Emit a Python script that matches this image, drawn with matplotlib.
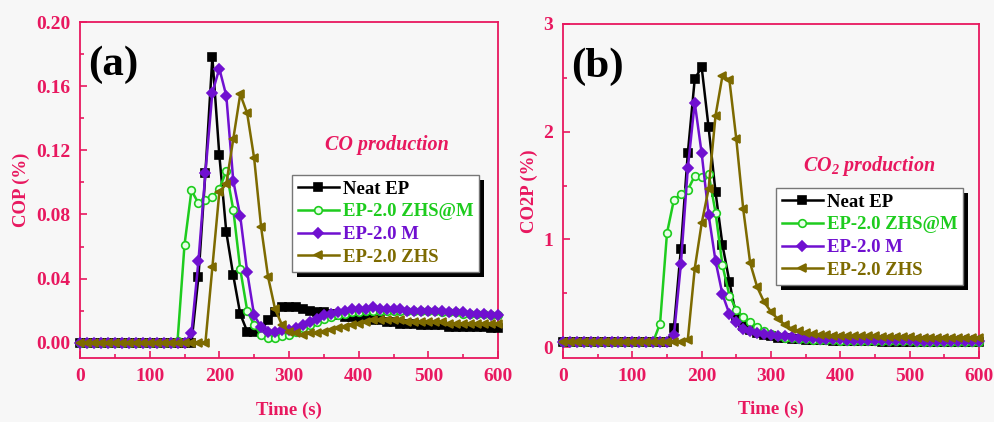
import numpy as np
import matplotlib
matplotlib.use("Agg")
import matplotlib.pyplot as plt
from matplotlib.patches import Rectangle
from matplotlib.transforms import IdentityTransform
from matplotlib.ticker import MultipleLocator, FormatStrFormatter

plt.rcParams['font.family'] = ['Liberation Serif', 'DejaVu Serif']
plt.rcParams['font.weight'] = 'bold'
plt.rcParams['mathtext.fontset'] = 'custom'
plt.rcParams['mathtext.rm'] = 'Liberation Serif:bold:italic'
plt.rcParams['mathtext.it'] = 'Liberation Serif:bold:italic'
plt.rcParams['mathtext.bf'] = 'Liberation Serif:bold:italic'

PINK = '#e8185f'

# time axis (s), one sample every 10 s
time = np.arange(0, 601, 10)

labels = ['Neat EP', 'EP-2.0 ZHS@M', 'EP-2.0 M', 'EP-2.0 ZHS']
colors = ['#000000', '#1ecc1e', '#7010d0', '#7d6a00']
markers = ['s', 'o', 'D', '<']

# (a) CO production (%)
cop_neat = [0.0] * 17 + [
    0.041, 0.106, 0.178, 0.117, 0.069, 0.042, 0.018, 0.007, 0.007, 0.008,
    0.014, 0.019, 0.022, 0.022, 0.022, 0.021, 0.020, 0.019, 0.019, 0.018,
    0.017, 0.016, 0.016, 0.015, 0.015, 0.014, 0.014, 0.013, 0.013, 0.012,
    0.012, 0.012, 0.011, 0.011, 0.011, 0.011, 0.010, 0.010, 0.010, 0.010,
    0.010, 0.010, 0.009, 0.009]
cop_zhsm = [0.0] * 14 + [
    0.001, 0.061, 0.095, 0.087, 0.089, 0.091, 0.096, 0.107, 0.083, 0.046,
    0.020, 0.011, 0.005, 0.003, 0.003, 0.004, 0.005, 0.007, 0.009, 0.011,
    0.013, 0.015, 0.016, 0.017, 0.018, 0.019, 0.019, 0.020,
    0.020, 0.020, 0.020, 0.020, 0.020, 0.020, 0.020, 0.020, 0.020,
    0.020, 0.019,
    0.019, 0.019, 0.018, 0.018, 0.018, 0.018, 0.017, 0.017]
cop_m = [0.0] * 16 + [
    0.006, 0.051, 0.106, 0.156, 0.171, 0.154, 0.101, 0.079, 0.044, 0.017,
    0.010, 0.007, 0.007, 0.008, 0.008, 0.009, 0.011, 0.013, 0.015, 0.017,
    0.018, 0.019, 0.020, 0.021, 0.021, 0.021, 0.022, 0.021, 0.021, 0.021,
    0.021, 0.020, 0.020, 0.020, 0.020, 0.020, 0.020, 0.019, 0.019, 0.019,
    0.018, 0.018, 0.018, 0.017, 0.017]
cop_zhs = [0.0] * 19 + [
    0.047, 0.094, 0.099, 0.127, 0.155, 0.143, 0.115, 0.072, 0.041, 0.021,
    0.011, 0.007, 0.006, 0.005, 0.006, 0.006, 0.007, 0.008, 0.009, 0.010,
    0.011, 0.012, 0.013, 0.014, 0.014, 0.014, 0.014, 0.014, 0.013, 0.013,
    0.013, 0.013, 0.013, 0.013, 0.012, 0.012, 0.012, 0.012, 0.012, 0.012,
    0.012, 0.012]

# (b) CO2 production (%)
co2p_neat = [0.05] * 16 + [
    0.18, 0.91, 1.80, 2.49, 2.60, 2.04, 1.44, 0.95, 0.61, 0.28,
    0.20, 0.16, 0.13, 0.11, 0.10, 0.09, 0.085, 0.08, 0.075, 0.07,
    0.07, 0.065, 0.065, 0.06, 0.06,
    0.055, 0.055, 0.055, 0.055, 0.055] + [0.05] * 15
co2p_zhsm = [0.05] * 14 + [
    0.22, 1.06, 1.37, 1.42, 1.46, 1.59, 1.58, 1.61, 1.25, 0.76,
    0.48, 0.35, 0.28, 0.23, 0.19, 0.15, 0.12, 0.10, 0.09, 0.085,
    0.08, 0.075, 0.07, 0.07, 0.065, 0.065, 0.06] + [0.06] * 5 + [0.055] * 5 + [0.05] * 10
co2p_m = [0.05] * 16 + [
    0.11, 0.77, 1.66, 2.27, 1.80, 1.23, 0.80, 0.49, 0.31, 0.23,
    0.17, 0.15, 0.13, 0.12, 0.11, 0.10, 0.10, 0.095, 0.09, 0.09,
    0.085, 0.08, 0.08, 0.075, 0.075] + [0.07] * 5 + [0.065] * 5 + [0.06] * 10
co2p_zhs = [0.05] * 18 + [
    0.07, 0.73, 1.15, 1.47, 2.15, 2.52, 2.48, 1.93, 1.28, 0.78,
    0.56, 0.42, 0.33, 0.26, 0.21, 0.17, 0.15, 0.13, 0.12, 0.115,
    0.11, 0.105, 0.10] + [0.10] * 5 + [0.095] * 5 + [0.09] * 10

W, H = 994, 422
fig = plt.figure(figsize=(W / 100, H / 100), dpi=100)
fig.patch.set_facecolor('#f7f7f7')

ax_a = fig.add_axes([80 / W, 1 - 358 / H, 418 / W, 336 / H])
ax_b = fig.add_axes([563 / W, 1 - 358 / H, 416 / W, 334 / H])


def draw_panel(ax, series, ylim, ymajor, yminor, yfmt, ylabel, tag, note, note_xy, leg_xy):
    ax.set_facecolor('#f7f7f7')
    for y, lab, c, m in zip(series, labels, colors, markers):
        face = '#e8ffe8' if m == 'o' else c
        ax.plot(time, y, color=c, marker=m, ms=5.5 if m != 'D' else 5, mfc=face,
                mec=c, mew=1.2, lw=1.8, label=lab, clip_on=False, zorder=3)
    ax.set_xlim(0, 600)
    ax.set_ylim(*ylim)
    ax.xaxis.set_major_locator(MultipleLocator(100))
    ax.xaxis.set_minor_locator(MultipleLocator(50))
    ax.yaxis.set_major_locator(MultipleLocator(ymajor))
    ax.yaxis.set_minor_locator(MultipleLocator(yminor))
    if yfmt:
        ax.yaxis.set_major_formatter(FormatStrFormatter(yfmt))
    for sp in ax.spines.values():
        sp.set_color(PINK)
        sp.set_linewidth(1.3)
    ax.tick_params(which='both', direction='in', colors=PINK, labelcolor=PINK,
                   labelsize=14, width=1.2)
    ax.tick_params(which='major', length=5, pad=7)
    ax.tick_params(which='minor', length=3)
    for t in ax.get_xticklabels() + ax.get_yticklabels():
        t.set_fontweight('bold')
    ax.set_ylabel(ylabel, color=PINK, fontsize=13.5, fontweight='bold', labelpad=4)
    # x label placed directly so it sits just above the lower edge
    ax.text(0.5, -0.155, 'Time (s)', transform=ax.transAxes, color=PINK, fontsize=13.5,
            fontweight='bold', ha='center', va='center')
    ax.text(0.02, 0.93, tag, transform=ax.transAxes, fontsize=31, fontweight='bold',
            ha='left', va='top', color='black')
    fig.text(note_xy[0] / W, 1 - note_xy[1] / H, note, color=PINK, fontsize=14.5,
             fontstyle='italic', fontweight='bold', ha='center', va='center')
    leg = ax.legend(loc='upper left', bbox_to_anchor=(leg_xy[0] / W, 1 - leg_xy[1] / H),
                    bbox_transform=fig.transFigure, borderaxespad=0, numpoints=1,
                    handlelength=2.2, handletextpad=0.2, labelspacing=0.3,
                    borderpad=0.3, fancybox=False, framealpha=1,
                    edgecolor='#777777', facecolor='white', labelcolor='linecolor',
                    prop={'family': 'Liberation Serif', 'weight': 'bold', 'size': 13.5})
    leg.get_frame().set_linewidth(1.0)
    leg.set_zorder(6)
    return leg


leg_a = draw_panel(ax_a, [cop_neat, cop_zhsm, cop_m, cop_zhs], (-0.0095, 0.2),
                   0.04, 0.02, '%.2f', 'COP (%)', '(a)', 'CO production',
                   (387, 145), (292, 175))
leg_b = draw_panel(ax_b, [co2p_neat, co2p_zhsm, co2p_m, co2p_zhs], (-0.1, 3.0),
                   1, 0.5, None, 'CO2P (%)', '(b)', 'CO$_2$ production',
                   (869, 166), (776, 188))

# thick black drop shadow behind each legend
fig.canvas.draw()
for ax, leg in [(ax_a, leg_a), (ax_b, leg_b)]:
    bb = leg.get_frame().get_window_extent()
    sh = Rectangle((bb.x0 + 5, bb.y0 - 5), bb.width, bb.height, transform=IdentityTransform(),
                   facecolor='black', edgecolor='none', zorder=5.5, clip_on=False)
    ax.add_artist(sh)

fig.savefig('out.png', dpi=100, facecolor=fig.get_facecolor())
